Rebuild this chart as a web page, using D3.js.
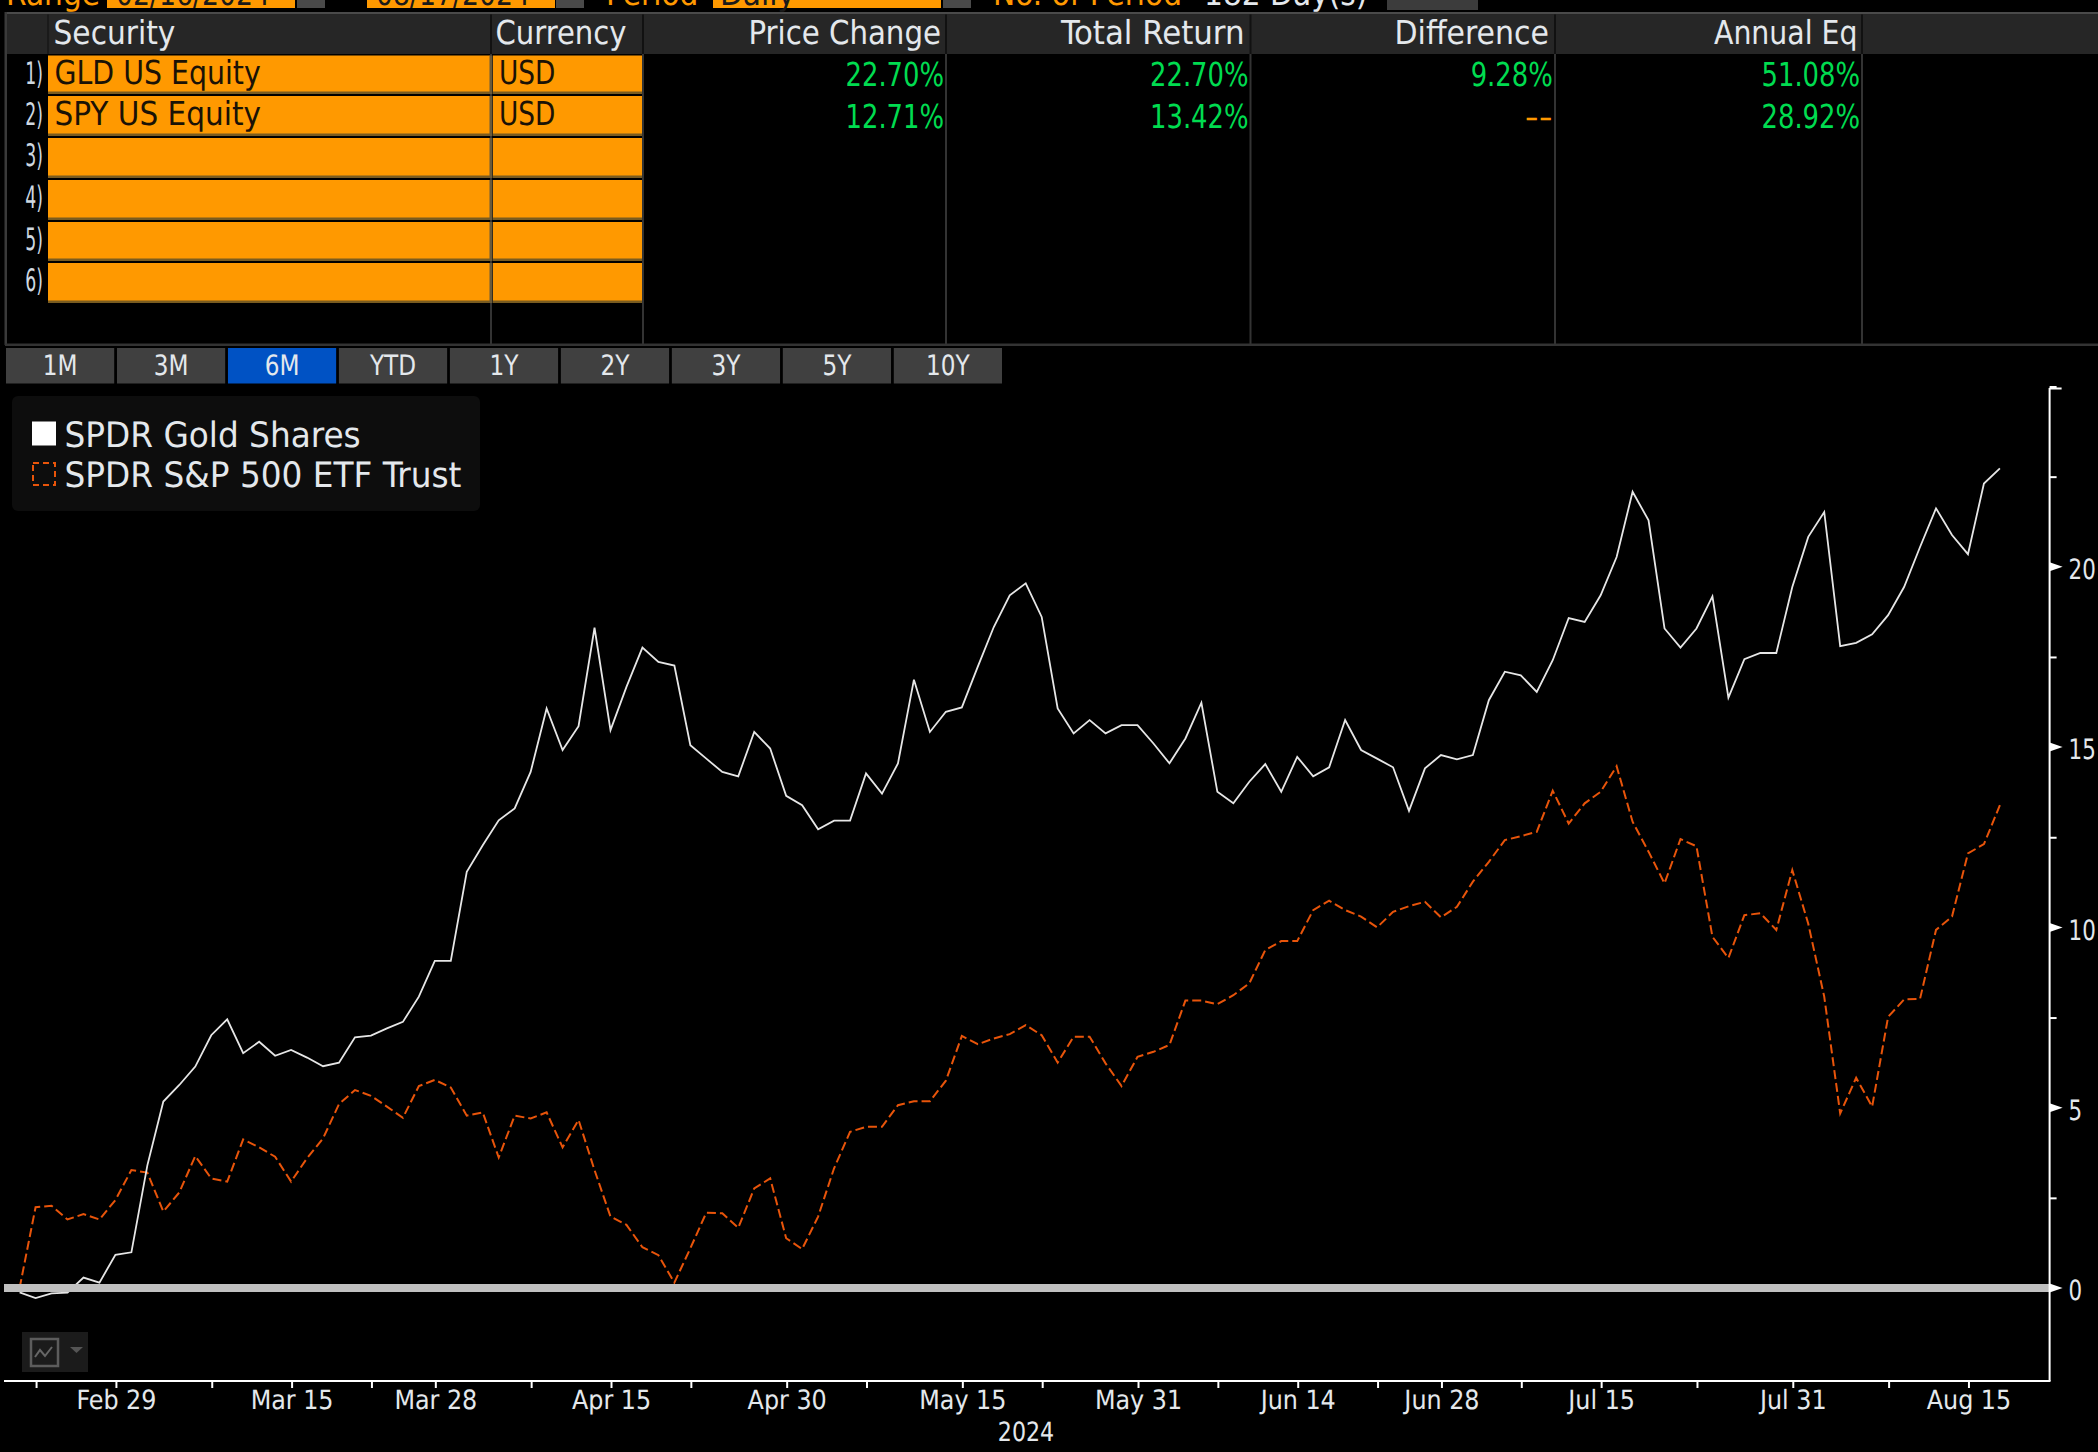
<!DOCTYPE html>
<html>
<head>
<meta charset="utf-8">
<script src="https://cdn.jsdelivr.net/npm/d3@7"></script>
<style>
html,body{margin:0;padding:0;background:#000;overflow:hidden}
svg{display:block}
text{font-family:"DejaVu Sans Condensed","DejaVu Sans";font-stretch:condensed;text-rendering:geometricPrecision}
</style>
</head>
<body>
<svg id="c" width="2098" height="1452"></svg>
<script>
const goldValues = [-0.12,-0.28,-0.15,-0.13,0.29,0.15,0.92,0.99,3.4,5.17,5.63,6.14,7.01,7.45,6.51,6.83,6.44,6.60,6.39,6.15,6.25,6.95,7.0,7.2,7.38,8.08,9.07,9.07,
 11.54,12.28,12.97,13.30,14.31,16.07,14.92,15.58,18.31,15.47,16.67,17.76,17.36,17.26,15.05,14.68,14.31,14.19,15.42,14.96,13.65,13.39,12.72,12.96,12.96,14.27,13.71,14.55,16.87,15.42,15.98,16.10,17.23,18.33,19.21,19.54,18.61,16.07,15.38,15.75,15.38,15.61,15.61,15.10,14.55,15.24,16.23,13.76,13.44,14.04,14.53,13.76,14.73,14.19,14.44,15.75,14.92,14.68,14.44,
 13.23,14.41,14.78,14.66,14.78,16.30,17.09,16.99,16.53,17.41,18.58,18.47,19.21,20.27,22.08,21.29,18.29,17.76,18.29,19.18,16.37,17.44,17.61,17.61,19.44,20.83,21.52,17.80,17.89,18.13,18.66,19.44,20.55,21.62,20.88,20.35,22.31,22.73];
const spyValues = [0,2.24,2.28,1.90,2.05,1.90,2.44,3.27,3.20,2.12,2.65,3.66,3.04,2.95,4.12,3.90,3.64,2.95,3.60,4.15,5.10,5.49,5.33,5.03,4.72,5.60,5.77,5.56,4.78,4.87,3.62,4.78,4.70,4.87,3.90,4.66,3.27,1.98,1.75,
 1.13,0.91,0.15,1.10,2.09,2.07,1.67,2.76,3.04,1.38,1.08,1.98,3.32,4.33,4.47,4.47,5.07,5.18,5.18,5.75,6.99,6.76,6.92,7.04,7.29,7.01,6.25,6.97,6.97,6.23,5.60,6.41,6.55,
 6.74,7.97,7.97,7.87,8.12,8.45,9.37,9.62,9.62,10.48,10.74,10.48,10.30,10.0,10.43,10.59,10.71,10.28,10.57,11.27,11.82,12.42,12.53,12.65,13.79,12.88,13.44,13.76,14.47,
 12.93,12.10,11.22,12.45,12.25,9.74,9.15,10.34,10.39,9.93,11.59,10.1,8.08,4.84,5.83,5.03,7.52,8.0,8.02,9.93,10.30,12.05,12.31,13.39];
const majorIdx = [6,17,26,37,48,59,70,80,89,99,111,122];
const majorLabels = ["Feb 29","Mar 15","Mar 28","Apr 15","Apr 30","May 15","May 31","Jun 14","Jun 28","Jul 15","Jul 31","Aug 15"];
const minorIdx = [1,12,22,32,42,53,64,75,85,94,105,117];
const yMajor = [0,5,10,15,20];
const yMinor = [2.5,7.5,12.5,17.5,22.5,25];
const periods = ["1M","3M","6M","YTD","1Y","2Y","3Y","5Y","10Y"];
const columns = ["Price Change","Total Return","Difference","Annual Eq"];
const columnFit = [0.985,1.04,1.01,0.955];
const rowSecurities = ["GLD US Equity","SPY US Equity","","","",""];
const rowCurrencies = ["USD","USD","","","",""];
const priceChange = ["22.70%","12.71%"];
const totalReturn = ["22.70%","13.42%"];
const difference = ["9.28%","--"];
const annualEq = ["51.08%","28.92%"];
const seriesNames = ["SPDR Gold Shares","SPDR S&P 500 ETF Trust"];

const svg = d3.select("#c");
const FG = "#e4e8ec", ORANGE="#ff9900", LINEORANGE="#e8540a";
function txt(p,x,y,s,size,fill,anchor,f){
  const n=p.append("text").attr("x",x).attr("y",y).attr("font-size",size).attr("fill",fill).attr("text-anchor",anchor||"start").text(s);
  if(f) fit(n,f);
  return n;
}
function fit(sel,f){
  sel.each(function(){
    const w=this.getComputedTextLength();
    d3.select(this).attr("textLength",w*f).attr("lengthAdjust","spacingAndGlyphs");
  });
}
function rect(p,x,y,w,h,fill){return p.append("rect").attr("x",x).attr("y",y).attr("width",w).attr("height",h).attr("fill",fill);}

// top strip (clipped by the top of the frame)
const strip = svg.append("g");
txt(strip,6,4.5,"Range",33,ORANGE);
rect(strip,107,0,188,8,ORANGE); txt(strip,116,4.5,"02/16/2024",33,"#1a1a1a","start",0.9);
rect(strip,297,0,28,8,"#4a4a4a");
rect(strip,367,0,188,8,ORANGE); txt(strip,376,4.5,"08/17/2024",33,"#1a1a1a","start",0.9);
rect(strip,556,0,28,8,"#4a4a4a");
txt(strip,606,4.5,"Period",33,ORANGE);
rect(strip,713,0,228,8,ORANGE); txt(strip,720,4.5,"Daily",33,"#1a1a1a");
rect(strip,943,0,28,8,"#4a4a4a");
txt(strip,993,4.5,"No. of Period",33,ORANGE);
txt(strip,1204,4.5,"182 Day(s)",33,FG);
rect(strip,1387,0,91,10,"#3c3c3c");

// table
const t = svg.append("g");
const colX = [491,643,946,1250.5,1555,1862];
rect(t,5,12,2093,2.5,"#4a4a4a");
rect(t,7,14.5,2091,39.5,"#262626");
rect(t,4.5,12,2.5,333,"#3a3a3a");
colX.forEach(x=>{
  rect(t,x-1,14.5,2,39.5,"#111");
  rect(t,x-1,54,2,291,"#333");
});
rect(t,47,14.5,2,39.5,"#1a1a1a");
rect(t,5,343.5,2093,2.5,"#333");
txt(t,53.5,43.5,"Security",33,FG);
txt(t,495.5,43.5,"Currency",33,FG,"start",0.98);
const headRight=[941,1244.5,1549,1857.5];
columns.forEach((c,i)=>txt(t,headRight[i],43.5,c,33,FG,"end",columnFit[i]));
const rowTop=[55.5,96,138,180,222,263], rowBot=[94,136,178,220,261,303];
const rowBase=[83.5,125,166,208,250,291];
rowSecurities.forEach((s,i)=>{
  rect(t,48,rowTop[i],442,rowBot[i]-rowTop[i],ORANGE);
  rect(t,493,rowTop[i],149,rowBot[i]-rowTop[i],ORANGE);
  rect(t,48,rowBot[i]-2.5,442,2.5,"#7a5c20");
  rect(t,493,rowBot[i]-2.5,149,2.5,"#7a5c20");
  rect(t,489.5,rowTop[i],3,rowBot[i]-rowTop[i],"#6a5a3a");
  txt(t,43,rowBase[i],(i+1)+")",31,"#cfd8e0","end",0.62);
  if(s) txt(t,54.5,rowBase[i],s,33,"#1a1206","start",i===0?0.956:0.995);
  if(rowCurrencies[i]) txt(t,499,rowBase[i],rowCurrencies[i],33,"#1a1206","start",0.89);
});
const GREEN="#00dc50";
const valRight=[944,1248.5,1552.7,1860];
[priceChange,totalReturn,difference,annualEq].forEach((col,c)=>{
  col.forEach((v,r)=>{
    txt(t,valRight[c],[85.5,127.5][r],v,33,v==="--"?ORANGE:GREEN,"end",v==="--"?1.3:0.87);
  });
});

// period buttons
const bx = d3.scaleBand().domain(periods).range([6,1002]).paddingInner(0.025).paddingOuter(0);
const btn = svg.append("g");
periods.forEach(p=>{
  rect(btn,bx(p),348,bx.bandwidth(),35.5,p==="6M"?"#0052c4":"#404040");
  txt(btn,bx(p)+bx.bandwidth()/2,375,p,28,FG,"middle",0.92);
});

// scales
const x = d3.scaleLinear().domain([0,124]).range([19.6,1999.9]);
const y = d3.scaleLinear().domain([0,25]).range([1288,386.5]);
const line = d3.line().x((d,i)=>x(i)).y(d=>y(d));

svg.append("path").datum(spyValues).attr("d",line).attr("fill","none")
  .attr("stroke",LINEORANGE).attr("stroke-width",2).attr("stroke-dasharray","9,4");
svg.append("path").datum(goldValues).attr("d",line).attr("fill","none")
  .attr("stroke","#e6e6e6").attr("stroke-width",1.8);

// zero line
svg.append("line").attr("x1",4).attr("x2",2050).attr("y1",y(0)).attr("y2",y(0))
  .attr("stroke","#c0c0c0").attr("stroke-width",8);

// y axis
const yAxisG = svg.append("g").attr("transform","translate(2049.6,0)");
const yMinorAxis = d3.axisRight(y).tickValues(yMinor).tickSize(7).tickFormat("");
yAxisG.append("g").call(yMinorAxis).call(g=>{
  g.select(".domain").remove();
  g.selectAll("line").attr("stroke","#fff").attr("stroke-width",2);
});
const yMajorAxis = d3.axisRight(y).tickValues(yMajor).tickSize(0).tickPadding(19).tickFormat(d3.format("d"));
yAxisG.append("g").call(yMajorAxis).call(g=>{
  g.select(".domain").remove();
  g.selectAll("text").attr("font-size",28).attr("fill",FG).attr("font-family",null).attr("dy","0.42em").call(fit,0.85);
});
yAxisG.selectAll(".ptr").data(yMajor).join("path").attr("class","ptr")
  .attr("d",d=>`M0,${y(d)-4.5}L13,${y(d)}L0,${y(d)+4.5}Z`).attr("fill","#fff");
rect(yAxisG,-1,388,2,993,"#fff");
rect(yAxisG,0,387.5,12,2,"#fff");

// x axis
const xAxisG = svg.append("g").attr("transform","translate(0.5,1381)");
const xMinor = d3.axisBottom(x).tickValues(minorIdx).tickSize(7).tickFormat("");
xAxisG.append("g").call(xMinor).call(g=>{
  g.select(".domain").remove();
  g.selectAll("line").attr("stroke","#fff").attr("stroke-width",2);
});
const xMajor = d3.axisBottom(x).tickValues(majorIdx).tickSize(7).tickPadding(2)
  .tickFormat(d=>majorLabels[majorIdx.indexOf(d)]);
xAxisG.append("g").call(xMajor).call(g=>{
  g.select(".domain").remove();
  g.selectAll("line").attr("stroke","#fff").attr("stroke-width",2);
  g.selectAll("text").attr("font-size",26.5).attr("fill",FG).attr("font-family",null);
});
rect(svg,4,1380,2046.5,2,"#fff");
txt(svg,1026,1441,"2024",26.5,FG,"middle",0.93);

// legend
const lg = svg.append("g");
lg.append("rect").attr("x",12).attr("y",396).attr("width",468).attr("height",115).attr("rx",6).attr("fill","#0d0d0d");
rect(lg,32,421.5,24,24,"#fff");
lg.append("rect").attr("x",33).attr("y",463).attr("width",22).attr("height",22).attr("fill","none")
  .attr("stroke",LINEORANGE).attr("stroke-width",2).attr("stroke-dasharray","6,4");
txt(lg,64.5,446.5,seriesNames[0],35,FG,"start",1.04);
txt(lg,64.5,487,seriesNames[1],35,FG,"start",1.04);

// chart-type icon
const ic = svg.append("g");
rect(ic,22,1332,66,40,"#1b1b1b");
ic.append("rect").attr("x",31).attr("y",1339).attr("width",27).attr("height",27).attr("fill","none").attr("stroke","#5c5c5c").attr("stroke-width",2.5);
ic.append("polyline").attr("points","35,1357 40,1350 45,1356 52,1347").attr("fill","none").attr("stroke","#666").attr("stroke-width",2);
ic.append("path").attr("d","M70,1347H83L76.5,1353Z").attr("fill","#555");
</script>
</body>
</html>
